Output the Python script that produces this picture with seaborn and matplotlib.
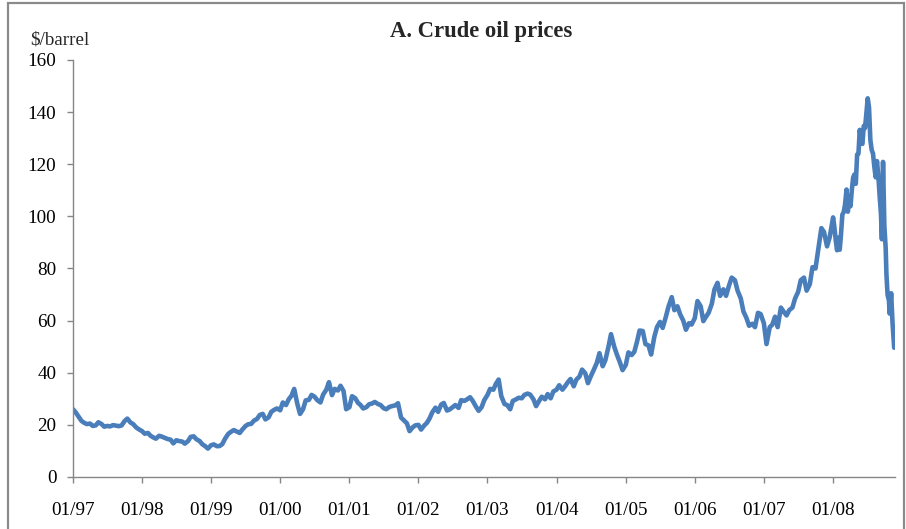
"""Crude oil price panel (panel A), $/barrel, Jan 1997 - Nov 2008."""

import matplotlib
matplotlib.use("Agg")
import matplotlib.dates as mdates
import matplotlib.pyplot as plt
import pandas as pd
import seaborn as sns
from matplotlib.patches import Rectangle

# semi-monthly readings (1st and 15th of each month), $/barrel
price_1997 = [26.0, 24.8, 23.0, 21.5, 20.8, 20.3, 20.5, 19.6, 19.8, 21.0, 20.3, 19.3,
              19.6, 19.4, 19.9, 19.7, 19.5, 19.8, 21.5, 22.4, 20.9, 20.3, 19.0, 18.3]
price_1998 = [17.6, 16.6, 16.9, 15.8, 15.2, 14.7, 15.8, 15.5, 15.0, 14.6, 14.3, 12.9,
              14.1, 13.8, 13.6, 12.8, 13.8, 15.4, 15.6, 14.5, 13.8, 12.6, 11.8, 10.9]
price_1999 = [12.2, 12.5, 11.8, 11.9, 12.6, 14.6, 16.5, 17.3, 18.0, 17.5, 16.9, 18.2,
              19.5, 20.2, 20.4, 21.6, 22.3, 23.8, 24.2, 22.1, 22.9, 25.0, 25.8, 26.3]
price_2000 = [25.6, 28.6, 27.6, 29.8, 31.2, 33.8, 28.0, 24.2, 26.0, 29.4, 29.6, 31.5,
              30.8, 29.5, 28.6, 31.6, 33.5, 36.4, 31.4, 33.8, 33.2, 35.0, 33.0, 26.0]
price_2001 = [26.8, 31.0, 30.2, 28.5, 27.6, 26.3, 26.8, 27.9, 28.2, 28.8, 28.0, 27.6,
              26.4, 26.0, 26.9, 27.2, 27.5, 28.3, 22.8, 21.8, 20.6, 17.6, 19.0, 19.8]
price_2002 = [20.0, 18.2, 19.8, 20.8, 22.5, 24.8, 26.6, 25.0, 27.8, 28.4, 25.5, 25.9,
              26.8, 27.6, 26.5, 29.5, 29.2, 29.8, 30.6, 29.2, 27.0, 25.4, 26.8, 29.5]
price_2003 = [31.5, 33.8, 33.5, 35.8, 37.4, 31.0, 28.0, 27.6, 26.0, 29.2, 29.8, 30.4,
              30.2, 31.5, 32.0, 31.6, 29.8, 27.2, 29.2, 30.8, 29.8, 31.8, 30.2, 32.8]
price_2004 = [33.5, 35.2, 33.5, 34.8, 36.4, 37.6, 34.8, 37.4, 38.5, 41.2, 39.8, 36.0,
              38.8, 41.0, 43.8, 47.5, 42.5, 44.8, 49.8, 54.8, 50.0, 47.0, 44.0, 41.0]
price_2005 = [43.0, 47.8, 46.8, 48.0, 51.8, 56.2, 56.0, 51.0, 50.5, 47.0, 53.8, 57.5,
              59.5, 57.2, 61.5, 65.4, 69.0, 64.0, 65.5, 62.5, 60.0, 56.5, 59.0, 58.5]
price_2006 = [61.0, 67.5, 65.5, 59.8, 61.5, 63.0, 66.5, 72.0, 74.5, 69.5, 72.0, 69.5,
              73.5, 76.5, 75.5, 71.5, 68.5, 63.5, 61.0, 58.0, 58.8, 57.5, 63.0, 62.5]
price_2007 = [59.0, 51.0, 57.5, 58.5, 61.5, 57.5, 65.0, 63.5, 62.0, 64.0, 65.0, 68.5,
              71.0, 75.5, 76.5, 71.5, 74.0, 80.5, 80.0, 87.0, 95.5, 94.0, 88.5, 92.0]

# 2008 read at roughly weekly spacing, plus the turning points
dates_2008 = ["2008-01-02", "2008-01-09", "2008-01-16", "2008-01-23", "2008-01-30",
              "2008-02-06", "2008-02-13", "2008-02-20", "2008-02-27", "2008-03-05",
              "2008-03-13", "2008-03-20", "2008-03-27", "2008-04-03", "2008-04-10",
              "2008-04-17", "2008-04-24", "2008-05-01", "2008-05-08", "2008-05-15",
              "2008-05-22", "2008-05-29", "2008-06-05", "2008-06-12", "2008-06-19",
              "2008-06-26", "2008-07-03", "2008-07-10", "2008-07-17", "2008-07-24",
              "2008-07-31", "2008-08-07", "2008-08-14", "2008-08-21", "2008-08-28",
              "2008-09-04", "2008-09-11", "2008-09-16", "2008-09-22", "2008-09-29",
              "2008-10-06", "2008-10-10", "2008-10-16", "2008-10-23", "2008-10-27",
              "2008-11-04", "2008-11-11", "2008-11-20"]
price_2008 = [99.6, 95.7, 90.8, 87.0, 91.8, 87.2, 93.3, 100.7, 101.6, 104.5,
              110.3, 101.8, 107.6, 103.9, 110.1, 114.9, 116.1, 112.5, 123.7, 124.1,
              133.2, 128.6, 127.8, 134.7, 133.9, 139.6, 145.3, 141.7, 129.3, 125.5,
              124.1, 119.0, 115.0, 121.2, 115.6, 107.9, 100.9, 91.2, 120.9, 96.4,
              87.8, 77.7, 69.9, 67.8, 62.7, 70.5, 59.3, 49.6]

tick_years = list(range(1997, 2009))
y_ticks = [0, 20, 40, 60, 80, 100, 120, 140, 160]

LINE = "#4a7ebb"
AXIS = "#868686"


def build_frame() -> pd.DataFrame:
    semi_monthly = {
        1997: price_1997, 1998: price_1998, 1999: price_1999, 2000: price_2000,
        2001: price_2001, 2002: price_2002, 2003: price_2003, 2004: price_2004,
        2005: price_2005, 2006: price_2006, 2007: price_2007,
    }
    parts = []
    for year, values in semi_monthly.items():
        dates = pd.date_range(f"{year}-01-01", periods=24, freq="SMS")
        parts.append(pd.DataFrame({"date": dates, "price": values}))
    parts.append(pd.DataFrame({"date": pd.to_datetime(dates_2008), "price": price_2008}))
    return pd.concat(parts, ignore_index=True)


df = build_frame()

sns.set_theme(style="ticks")
plt.rcParams["font.family"] = ["Liberation Serif", "DejaVu Serif"]

fig = plt.figure(figsize=(9.06, 5.29), dpi=100)
fig.patch.set_facecolor("white")
ax = fig.add_axes([0.0806, 0.0983, 0.907, 0.7883])

sns.lineplot(data=df, x="date", y="price", ax=ax, color=LINE, linewidth=3.3)

ax.set_xlim(df["date"].iloc[0], df["date"].iloc[-1] + pd.Timedelta(days=3))
ax.set_ylim(0, 160)
ax.set_yticks(y_ticks)
ax.set_xticks(pd.to_datetime([f"{y}-01-01" for y in tick_years]))
ax.xaxis.set_major_formatter(mdates.DateFormatter("%m/%y"))
ax.set_xlabel("")
ax.set_ylabel("")

for side in ("top", "right"):
    ax.spines[side].set_visible(False)
for side in ("left", "bottom"):
    ax.spines[side].set_color(AXIS)
    ax.spines[side].set_linewidth(1.0)
ax.tick_params(axis="both", direction="out", length=4, width=1, color=AXIS,
               labelsize=13.8, labelcolor="black")
ax.tick_params(axis="x", pad=14)
ax.tick_params(axis="y", pad=8)

fig.text(0.5315, 0.94, "A. Crude oil prices", ha="center", va="center",
         fontsize=16.3, fontweight="bold")
fig.text(0.0665, 0.924, "$/barrel", ha="center", va="center", fontsize=13.7)

# outer chart-area frame
fig.patches.append(Rectangle((0.009, -0.01), 0.989, 1.004, transform=fig.transFigure,
                             fill=False, edgecolor="#8a8a8a", linewidth=1.6))

fig.savefig("out.png", dpi=100, facecolor="white")
plt.close(fig)
